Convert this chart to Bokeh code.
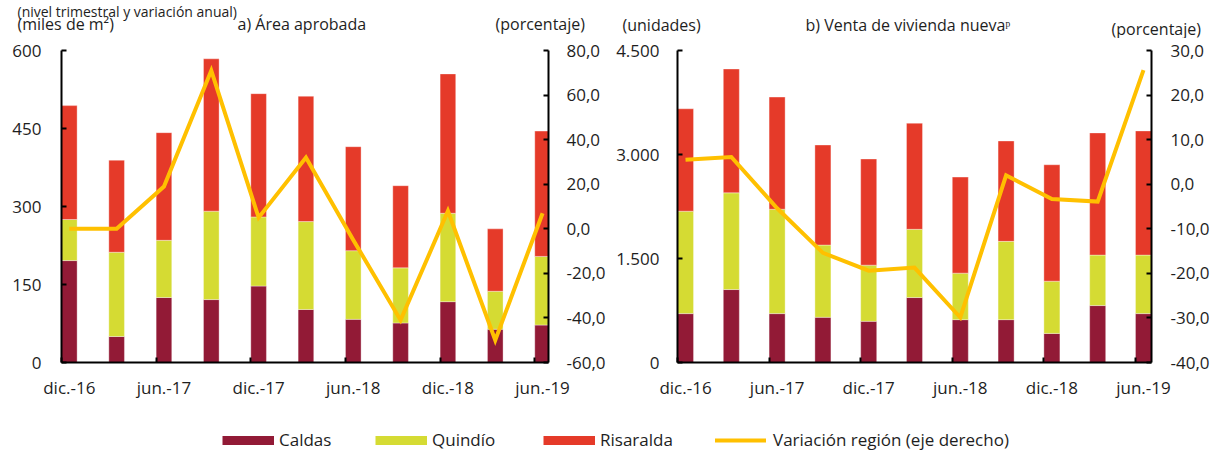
from bokeh.plotting import figure
from bokeh.models import Range1d, LinearAxis, FixedTicker, Legend, LegendItem, ColumnDataSource
from bokeh.core.properties import value
from bokeh.layouts import column, row
from bokeh.embed import file_html
from bokeh.resources import INLINE

# ---------------- data ----------------
quarters = ["dic.-16", "mar.-17", "jun.-17", "sep.-17", "dic.-17", "mar.-18",
            "jun.-18", "sep.-18", "dic.-18", "mar.-19", "jun.-19"]
series = ["Caldas", "Quindío", "Risaralda"]
line_name = "Variación región (eje derecho)"

# a) Área aprobada (miles de m2)
area_caldas = [196, 50, 125, 121, 147, 102, 83, 76, 117, 64, 72]
area_quindio = [79, 162, 110, 170, 133, 169, 132, 106, 170, 73, 132]
area_risaralda = [219, 177, 207, 293, 237, 241, 200, 158, 268, 120, 241]
area_var = [0.0, 0.0, 19.0, 71.0, 5.0, 32.0, -5.0, -41.0, 8.0, -50.0, 7.0]

# b) Venta de vivienda nueva (unidades)
venta_caldas = [705, 1052, 705, 652, 594, 937, 618, 618, 420, 821, 705]
venta_quindio = [1477, 1395, 1506, 1042, 810, 984, 671, 1129, 753, 728, 844]
venta_risaralda = [1477, 1786, 1617, 1443, 1531, 1530, 1385, 1448, 1679, 1762, 1791]
venta_var = [5.5, 6.1, -5.4, -15.4, -19.4, -18.7, -29.9, 2.0, -3.3, -3.9, 25.6]

# tick values / labels
a_left_ticks = [0, 150, 300, 450, 600]
a_left_labels = ["0", "150", "300", "450", "600"]
a_right_ticks = [-60, -40, -20, 0, 20, 40, 60, 80]
a_right_labels = ["-60,0", "-40,0", "-20,0", "0,0", "20,0", "40,0", "60,0", "80,0"]
b_left_ticks = [0, 1500, 3000, 4500]
b_left_labels = ["0", "1.500", "3.000", "4.500"]
b_right_ticks = [-40, -30, -20, -10, 0, 10, 20, 30]
b_right_labels = ["-40,0", "-30,0", "-20,0", "-10,0", "0,0", "10,0", "20,0", "30,0"]

# header texts
header_texts = ["(nivel trimestral y variación anual)",
                "(miles de m²)", "a) Área aprobada", "(porcentaje)",
                "(unidades)", "b) Venta de vivienda nuevaᵖ", "(porcentaje)"]

colors = ["#921A36", "#D5DB33", "#E53A29"]
line_color = "#FFC000"
FONT = "Open Sans"
TXT = "#1e1e1e"
W = 1214


def style_axis(ax, standoff):
    ax.axis_line_color = "black"
    ax.axis_line_width = 2
    ax.major_tick_line_color = "black"
    ax.major_tick_line_width = 2
    ax.major_tick_in = 5
    ax.major_tick_out = 0
    ax.minor_tick_line_color = None
    ax.major_label_text_font = FONT
    ax.major_label_text_font_size = "17px"
    ax.major_label_text_color = TXT
    ax.major_label_standoff = standoff


def panel(caldas, quindio, risaralda, var, xmax, bw, yr, pr,
          lt, ll, rt, rl, width, borders, ls, rs):
    n = len(quarters)
    idx = list(range(n))
    centers = [i + bw / 2 for i in idx]
    src = ColumnDataSource(dict(
        x=centers, Caldas=caldas, Quindío=quindio, Risaralda=risaralda, var=var))
    p = figure(width=width, height=366, output_backend="svg", toolbar_location=None,
               x_range=Range1d(0, xmax), y_range=Range1d(*yr),
               min_border_left=borders[0], min_border_right=borders[1],
               min_border_top=borders[2], min_border_bottom=borders[3],
               background_fill_color="white", border_fill_color="white")
    p.outline_line_color = None
    p.grid.visible = False
    p.extra_y_ranges = {"pct": Range1d(*pr)}
    p.vbar_stack(series, x="x", width=bw, source=src, color=colors,
                 line_color="white", line_alpha=0.35, line_width=1)
    p.line("x", "var", source=src, y_range_name="pct", color=line_color,
           line_width=4, line_join="miter")

    # labels centred on bars (major ticks, no marks), tick marks at period starts (minor)
    xa = p.xaxis[0]
    xa.ticker = FixedTicker(ticks=centers[::2], minor_ticks=idx[::2])
    xa.major_label_overrides = {centers[i]: quarters[i] for i in idx[::2]}
    style_axis(xa, 13)
    xa.major_tick_in = 0
    xa.major_tick_line_color = None
    xa.minor_tick_line_color = "black"
    xa.minor_tick_line_width = 2
    xa.minor_tick_in = 5
    xa.minor_tick_out = 0

    p.yaxis.ticker = FixedTicker(ticks=lt)
    p.yaxis.major_label_overrides = dict(zip(lt, ll))
    style_axis(p.yaxis[0], ls)
    ax2 = LinearAxis(y_range_name="pct", ticker=FixedTicker(ticks=rt),
                     major_label_overrides=dict(zip(rt, rl)))
    style_axis(ax2, rs)
    p.add_layout(ax2, "right")
    return p


# ---------------- header strip (page y 0..38) ----------------
ph = figure(width=W, height=38, output_backend="svg", toolbar_location=None,
            x_range=Range1d(0, W), y_range=Range1d(38, 0),
            x_axis_type=None, y_axis_type=None,
            min_border_left=0, min_border_right=0, min_border_top=0, min_border_bottom=0)
ph.outline_line_color = None
ph.grid.visible = False
hsrc = ColumnDataSource(dict(
    text=header_texts[1:],
    x=[17, 237, 495, 622, 805, 1111],
    y=[23, 23, 23, 24, 24, 28]))
ph.text("x", "y", text="text", source=hsrc, text_font=value(FONT),
        text_font_size="16px", text_color=TXT, text_baseline="middle", text_align="left")
ph.text([17], [11], text=[header_texts[0]], text_font=value(FONT),
        text_font_size="14px", text_color=TXT, text_baseline="alphabetic", text_align="left")

# ---------------- panels ----------------
# panel a frame: x 61..548, y 47..365 ; panel b frame: x 677..1151, y 50..362
pa = panel(area_caldas, area_quindio, area_risaralda, area_var, 10.29, 0.33,
           (0, 600), (-60, 80), a_left_ticks, a_left_labels, a_right_ticks, a_right_labels,
           610, (61, 62, 9, 39), 20, 18)
pb = panel(venta_caldas, venta_quindio, venta_risaralda, venta_var, 10.35, 0.35,
           (0, 4500), (-40, 30), b_left_ticks, b_left_labels, b_right_ticks, b_right_labels,
           W - 610, (67, 63, 12, 42), 18, 19)

# ---------------- legend strip (page y 404..452) ----------------
pl = figure(width=W, height=48, output_backend="svg", toolbar_location=None,
            x_range=Range1d(0, 1), y_range=Range1d(0, 1),
            x_axis_type=None, y_axis_type=None,
            min_border_left=0, min_border_right=0, min_border_top=0, min_border_bottom=0)
pl.outline_line_color = None
pl.grid.visible = False
dummy = ColumnDataSource(dict(x=[-10, -11], y=[-10, -11]))
rends = [pl.line("x", "y", source=dummy, color=c, line_width=9, line_cap="butt")
         for c in colors]
rline = pl.line("x", "y", source=dummy, color=line_color, line_width=4, line_cap="round")

entries = [(series[0], rends[0], 222, 52, 5),
           (series[1], rends[1], 375, 52, 5),
           (series[2], rends[2], 543, 52, 5),
           (line_name, rline, 715, 51, 7)]
for name, r, lx, gw, so in entries:
    lg = Legend(items=[LegendItem(label=name, renderers=[r])], location=(lx, 1),
                orientation="horizontal", glyph_width=gw, glyph_height=22, label_height=22,
                label_standoff=so, padding=0, margin=0, spacing=0,
                border_line_color=None, background_fill_alpha=0,
                label_text_font=FONT, label_text_font_size="17px", label_text_color=TXT,
                label_text_baseline="middle")
    pl.add_layout(lg, "center")

layout = column(ph, row(pa, pb), pl)
open("out.html", "w").write(file_html(layout, INLINE))
